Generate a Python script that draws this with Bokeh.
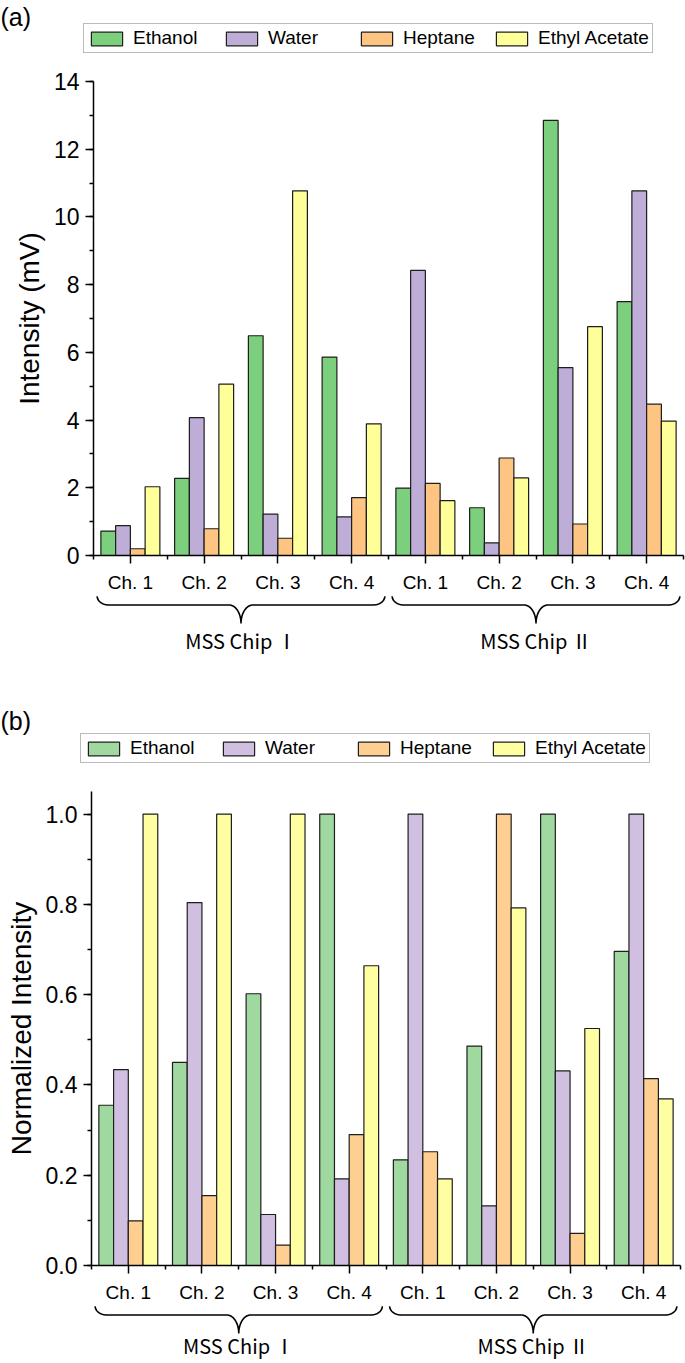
import numpy as np
from bokeh.plotting import figure
from bokeh.models import (Range1d, FixedTicker, SingleIntervalTicker, Legend, LegendItem,
                          ColumnDataSource, PrintfTickFormatter, BasicTickFormatter)
from bokeh.layouts import column
from bokeh.embed import file_html
from bokeh.resources import INLINE
from bokeh.core.properties import value

# ---------------- data ----------------
channels = ["Ch. 1", "Ch. 2", "Ch. 3", "Ch. 4", "Ch. 1", "Ch. 2", "Ch. 3", "Ch. 4"]
chips = ["MSS Chip Ⅰ", "MSS Chip Ⅱ"]
solvents = ["Ethanol", "Water", "Heptane", "Ethyl Acetate"]

# (a) raw intensity, mV
ethanol_mv = [0.72, 2.28, 6.49, 5.86, 1.99, 1.41, 12.85, 7.50]
water_mv = [0.88, 4.07, 1.22, 1.14, 8.42, 0.37, 5.55, 10.77]
heptane_mv = [0.20, 0.79, 0.51, 1.71, 2.13, 2.88, 0.93, 4.47]
ethyl_acetate_mv = [2.03, 5.06, 10.77, 3.89, 1.62, 2.29, 6.76, 3.97]

# (b) normalized intensity
ethanol_norm = [0.355, 0.450, 0.602, 1.000, 0.234, 0.486, 1.000, 0.696]
water_norm = [0.434, 0.804, 0.113, 0.192, 1.000, 0.132, 0.431, 1.000]
heptane_norm = [0.099, 0.155, 0.045, 0.290, 0.252, 1.000, 0.071, 0.414]
ethyl_acetate_norm = [1.000, 1.000, 1.000, 0.664, 0.192, 0.792, 0.525, 0.369]

colors_a = ["#7CCF7C", "#BEADD6", "#FEC481", "#FFFF99"]
colors_b = ["#A0D9A0", "#D0BFE0", "#FFCF92", "#FFFFA2"]

W = 685
BAR_W = 0.2
SANS = "Liberation Sans"
JP = "Noto Sans CJK JP"
N = len(channels)
EDGE = "#1e1e1e"


def bare(height, x_range, y_range, b_left=0, b_right=0):
    p = figure(width=W, height=height, x_range=x_range, y_range=y_range,
               output_backend="svg", toolbar_location=None,
               x_axis_location=None, y_axis_location=None,
               min_border_left=b_left, min_border_right=b_right,
               min_border_top=0, min_border_bottom=0)
    p.outline_line_color = None
    p.grid.visible = False
    p.frame_align = False
    return p


def header(height, tag, tag_y, colors, leg_x, leg_y):
    p = bare(height, Range1d(0, W), Range1d(height, 0))
    p.text(x=[0], y=[tag_y], text=[tag], text_align="left", text_baseline="top",
           text_font=value(SANS), text_font_size="25px", text_color="black")
    items = []
    for name, col in zip(solvents, colors):
        src = ColumnDataSource(dict(x=np.array([np.nan]), top=np.array([np.nan])))
        r = p.vbar(x="x", top="top", width=1, source=src,
                   fill_color=col, line_color=EDGE, line_width=1.2)
        items.append(LegendItem(label=name, renderers=[r]))
    leg = Legend(items=items, orientation="horizontal", location=(leg_x, leg_y),
                 glyph_width=39, glyph_height=17, label_standoff=7, label_width=89,
                 spacing=0, padding=3, margin=0,
                 label_text_font=SANS, label_text_font_size="19px",
                 label_text_color="black",
                 border_line_color="#777777", border_line_width=1,
                 background_fill_color="white", background_fill_alpha=1)
    p.add_layout(leg)
    return p


def bar_panel(series, colors, y_end, interval, fmt, ylabel, height,
              b_left, b_right, b_top, b_bottom):
    p = figure(width=W, height=height, x_range=Range1d(0, N), y_range=Range1d(0, y_end),
               output_backend="svg", toolbar_location=None,
               min_border_left=b_left, min_border_right=b_right,
               min_border_top=b_top, min_border_bottom=b_bottom)
    p.outline_line_color = None
    p.grid.visible = False
    p.frame_align = False

    idx = np.arange(N)
    for k, (vals, col) in enumerate(zip(series, colors)):
        src = ColumnDataSource(dict(x=idx + 0.5 + (k - 1.5) * BAR_W, top=vals))
        p.vbar(x="x", top="top", bottom=0, width=BAR_W, source=src,
               fill_color=col, line_color=EDGE, line_width=1.2)

    xa = p.xaxis[0]
    xa.ticker = FixedTicker(ticks=[float(i + 0.5) for i in idx],
                            minor_ticks=[float(i) for i in range(N + 1)])
    xa.major_label_overrides = {float(i + 0.5): ch for i, ch in enumerate(channels)}
    xa.major_label_text_font = SANS
    xa.major_label_text_font_size = "19px"
    xa.major_label_text_color = "black"
    xa.major_label_standoff = 8

    ya = p.yaxis[0]
    ya.ticker = SingleIntervalTicker(interval=interval, num_minor_ticks=2)
    ya.formatter = fmt
    ya.major_label_text_font = SANS
    ya.major_label_text_font_size = "23px"
    ya.major_label_text_color = "black"
    ya.major_label_standoff = 6
    ya.axis_label = ylabel
    ya.axis_label_text_font = SANS
    ya.axis_label_text_font_size = "28px"
    ya.axis_label_text_font_style = "normal"
    ya.axis_label_text_color = "black"
    ya.axis_label_standoff = 6

    for ax in (xa, ya):
        ax.axis_line_width = 1.5
        ax.axis_line_color = "black"
        ax.major_tick_out = 8
        ax.major_tick_in = 0
        ax.minor_tick_out = 4
        ax.minor_tick_in = 0
        ax.major_tick_line_width = 1.5
        ax.minor_tick_line_width = 1.5
        ax.major_tick_line_color = "black"
        ax.minor_tick_line_color = "black"
    return p


def brace_panel(height, b_left, b_right, label_y):
    p = bare(height, Range1d(0, N), Range1d(height, 0), b_left, b_right)
    span = N // len(chips)
    y_end, y_mid, y_tip = 0.8, 9.5, 28.0
    r = 0.16
    t = np.linspace(0, np.pi / 2, 24)
    xs_all, ys_all, cx = [], [], []
    for g in range(len(chips)):
        x0 = g * span + 0.05
        xc = (g * span + (g + 1) * span) / 2
        cx.append(xc)
        lx1 = x0 + r * (1 - np.cos(t))
        ly1 = y_end + (y_mid - y_end) * np.sin(t)
        lx2 = xc - r + r * np.sin(t)
        ly2 = y_mid + (y_tip - y_mid) * (1 - np.cos(t))
        left_x = np.concatenate([lx1, lx2])
        left_y = np.concatenate([ly1, ly2])
        right_x = (2 * xc - left_x)[::-1]
        right_y = left_y[::-1]
        xs_all.append(list(np.concatenate([left_x, right_x])))
        ys_all.append(list(np.concatenate([left_y, right_y])))
    p.multi_line(xs=xs_all, ys=ys_all, line_color="black", line_width=1.6)
    p.text(x=cx, y=[label_y] * len(cx), text=chips, text_align="center",
           text_baseline="middle", text_font=value(JP), text_font_size="20px",
           text_color="black")
    return p


ha = header(60, "(a)", 2, colors_a, 83, 7)
pa = bar_panel([ethanol_mv, water_mv, heptane_mv, ethyl_acetate_mv], colors_a,
               14, 2, BasicTickFormatter(), "Intensity (mV)", 535, 93, 2, 21, 39)
ba = brace_panel(95, 93, 2, 45)
hb = header(83, "(b)", 16, colors_b, 80, 10)
pb = bar_panel([ethanol_norm, water_norm, heptane_norm, ethyl_acetate_norm], colors_b,
               1.05, 0.2, PrintfTickFormatter(format="%.1f"), "Normalized Intensity",
               532, 91, 5, 18, 39)
bb = brace_panel(58, 91, 5, 40)

layout = column(ha, pa, ba, hb, pb, bb, spacing=0)
open("out.html", "w").write(file_html(layout, INLINE))
